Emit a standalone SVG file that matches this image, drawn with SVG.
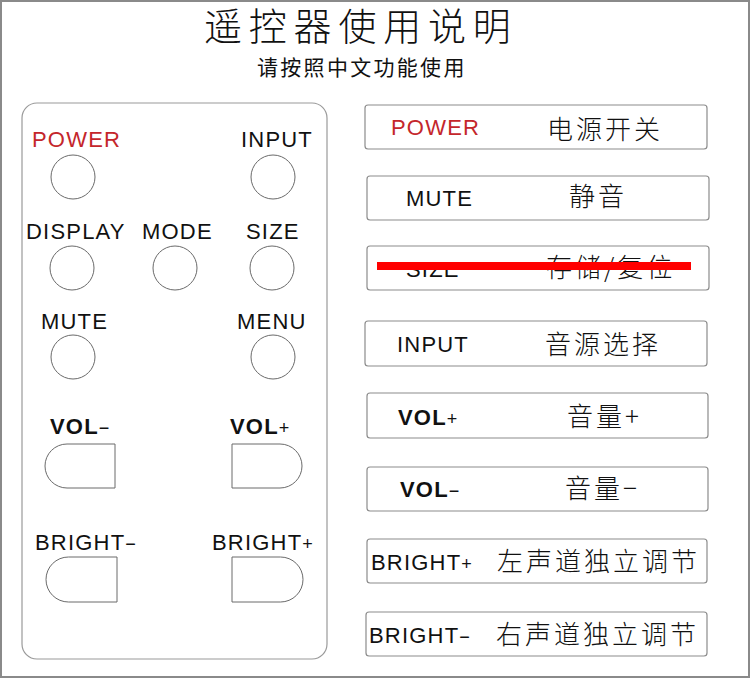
<svg xmlns="http://www.w3.org/2000/svg" width="750" height="678" viewBox="0 0 750 678">
<style>
.lat{font-family:"Liberation Sans",Arial,sans-serif;font-size:22px;letter-spacing:1.2px;fill:#111}
.red{fill:#c4262b}
.b{font-weight:bold}
.sym{font-weight:normal;font-size:18px}
.cjk{font-family:"Noto Sans CJK SC","Noto Sans CJK JP",sans-serif;font-weight:300;font-size:26px;letter-spacing:3px;fill:#111}
.btn{fill:none;stroke:#6a6a6a;stroke-width:1}
.box{fill:#fff;stroke:#8c8c8c;stroke-width:1.2}
</style>
<rect x="0" y="0" width="750" height="678" fill="#fff"/>
<rect x="1" y="1" width="748" height="676" fill="none" stroke="#8a8a8a" stroke-width="2"/>
<g id="title">
<text x="204" y="40" font-family="'Noto Sans CJK SC',sans-serif" font-weight="300" font-size="38" letter-spacing="6.8" fill="#111">遥控器使用说明</text>
<text x="257" y="75" font-family="'Noto Sans CJK SC',sans-serif" font-size="21" letter-spacing="2.3" fill="#111">请按照中文功能使用</text>
</g>
<g id="remote">
<rect x="22" y="103" width="305" height="556" rx="15" fill="none" stroke="#9a9a9a" stroke-width="1.2"/>
</g>
<g id="btn-power"><text class="lat red" x="32" y="147">POWER</text><circle class="btn" cx="73" cy="177" r="22"/></g>
<g id="btn-input"><text class="lat" x="241" y="147">INPUT</text><circle class="btn" cx="273" cy="177" r="22"/></g>
<g id="btn-display"><text class="lat" x="26" y="239">DISPLAY</text><circle class="btn" cx="72" cy="268" r="22"/></g>
<g id="btn-mode"><text class="lat" x="142" y="239">MODE</text><circle class="btn" cx="175" cy="268" r="22"/></g>
<g id="btn-size"><text class="lat" x="246" y="239">SIZE</text><circle class="btn" cx="272" cy="268" r="22"/></g>
<g id="btn-mute"><text class="lat" x="41" y="329">MUTE</text><circle class="btn" cx="73" cy="357" r="22"/></g>
<g id="btn-menu"><text class="lat" x="237" y="329">MENU</text><circle class="btn" cx="273" cy="357" r="22"/></g>
<g id="btn-volminus"><text class="lat b" x="50" y="434">VOL<tspan class="sym">−</tspan></text><path class="btn" d="M115,444 H67 A22,22 0 0 0 67,488 H115 Z"/></g>
<g id="btn-volplus"><text class="lat b" x="230" y="434">VOL<tspan class="sym">+</tspan></text><path class="btn" d="M232,444 H280 A22,22 0 0 1 280,488 H232 Z"/></g>
<g id="btn-brightminus"><text class="lat" x="35" y="550">BRIGHT<tspan class="sym">−</tspan></text><path class="btn" d="M117,557 H68.5 A22.5,22.5 0 0 0 68.5,602 H117 Z"/></g>
<g id="btn-brightplus"><text class="lat" x="212" y="550">BRIGHT<tspan class="sym">+</tspan></text><path class="btn" d="M232,557 H280.5 A22.5,22.5 0 0 1 280.5,602 H232 Z"/></g>

<g id="row-power"><rect class="box" x="365" y="105" width="342" height="44" rx="3"/><text class="lat red" x="391" y="135">POWER</text><text class="cjk" x="547" y="139">电源开关</text></g>
<g id="row-mute"><rect class="box" x="367" y="176" width="342" height="44" rx="3"/><text class="lat" x="406" y="206">MUTE</text><text class="cjk" x="569" y="206">静音</text></g>
<g id="row-size"><rect class="box" x="367" y="246" width="342" height="44" rx="3"/><text class="lat" x="406" y="277">SIZE</text><text class="cjk" x="546" y="277">存储/复位</text><rect x="377" y="262" width="314" height="8" fill="#f00"/></g>
<g id="row-input"><rect class="box" x="365" y="321" width="342" height="45" rx="3"/><text class="lat" x="397" y="352">INPUT</text><text class="cjk" x="545" y="354">音源选择</text></g>
<g id="row-volplus"><rect class="box" x="367" y="393" width="341" height="45" rx="3"/><text class="lat b" x="398" y="425">VOL<tspan class="sym">+</tspan></text><text class="cjk" x="567" y="426">音量+</text></g>
<g id="row-volminus"><rect class="box" x="367" y="467" width="341" height="44" rx="3"/><text class="lat b" x="400" y="497">VOL<tspan class="sym">−</tspan></text><text class="cjk" x="565" y="498">音量−</text></g>
<g id="row-brightplus"><rect class="box" x="367" y="539" width="340" height="44" rx="3"/><text class="lat" x="371" y="570">BRIGHT<tspan class="sym">+</tspan></text><text class="cjk" x="497" y="571">左声道独立调节</text></g>
<g id="row-brightminus"><rect class="box" x="366" y="612" width="341" height="44" rx="3"/><text class="lat" x="369" y="643">BRIGHT<tspan class="sym">−</tspan></text><text class="cjk" x="496" y="644">右声道独立调节</text></g>
<g id="connectors"/>
</svg>
